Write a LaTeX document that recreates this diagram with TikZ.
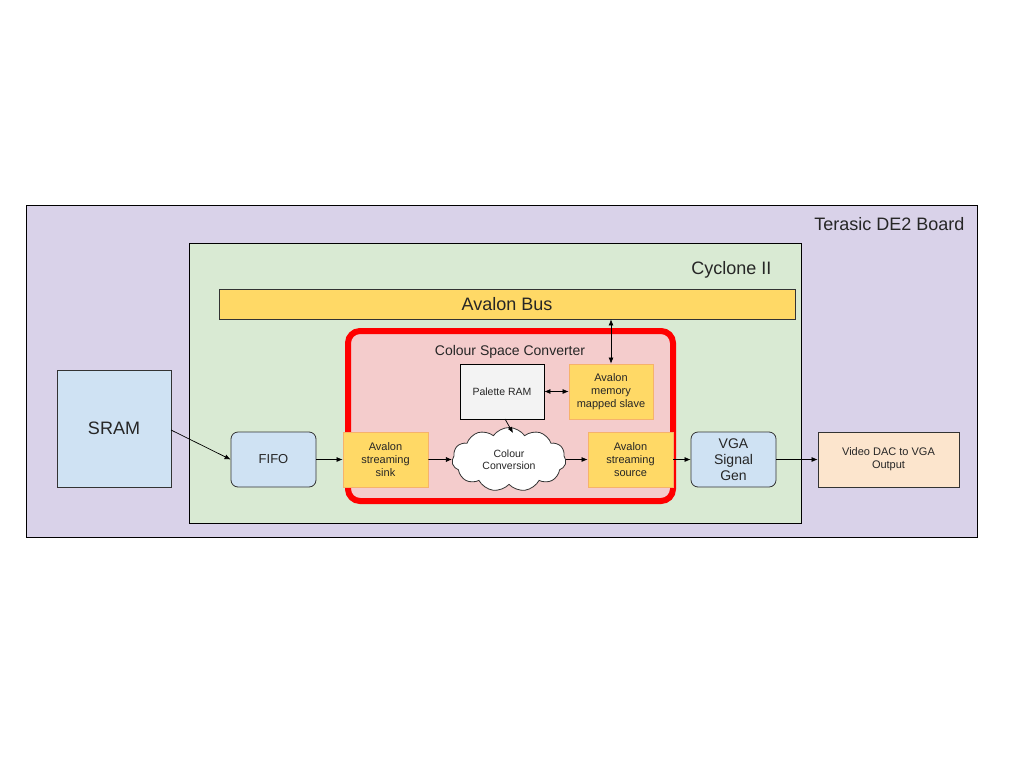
\documentclass[tikz,border=0pt]{standalone}
\usepackage{fontspec}
\setmainfont{Liberation Sans}
\usetikzlibrary{shapes.symbols,arrows.meta}
\definecolor{boardc}{HTML}{D9D2E9}
\definecolor{cyc}{HTML}{D9EAD3}
\definecolor{yel}{HTML}{FFD966}
\definecolor{yelb}{HTML}{F6B26B}
\definecolor{pinkc}{HTML}{F4CCCC}
\definecolor{bluec}{HTML}{CFE2F3}
\definecolor{peach}{HTML}{FCE5CD}
\definecolor{greyc}{HTML}{F3F3F3}
\begin{document}
\begin{tikzpicture}[x=1pt,y=-1pt,
  every node/.style={font=\fontsize{11}{13}\selectfont, align=center, text=black!85},
  box/.style={draw=black, line width=0.8pt, inner sep=0pt},
  ybox/.style={draw=yelb, fill=yel, line width=0.8pt, inner sep=0pt, minimum width=85pt, minimum height=55pt},
  rbox/.style={draw=black!80, fill=bluec, line width=0.8pt, rounded corners=7pt, inner sep=0pt, minimum width=85pt, minimum height=55pt},
  arr/.style={-{Latex[length=6pt,width=5pt]}, line width=0.7pt},
  darr/.style={{Latex[length=6pt,width=5pt]}-{Latex[length=6pt,width=5pt]}, line width=0.7pt}]
\useasboundingbox (0,0) rectangle (1024,768);
\fill[white] (0,0) rectangle (1024,768);
% board
\draw[fill=boardc, line width=0.8pt] (26,205) rectangle (977,537);
\node[anchor=east, font=\fontsize{18}{20}\selectfont] (boardlbl) at (968,224) {Terasic DE2 Board};
% cyclone
\draw[fill=cyc, line width=0.8pt] (189,243) rectangle (801,523);
\node[anchor=east, font=\fontsize{18}{20}\selectfont] (cyclbl) at (775,270) {Cyclone II};
% avalon bus
\node[draw=black!80, fill=yel, line width=0.8pt, minimum width=576pt, minimum height=30pt, inner sep=0pt, font=\fontsize{18}{20}\selectfont] (bus) at (507,304) {Avalon Bus};
% CSC
\draw[draw=red, fill=pinkc, line width=6pt, rounded corners=12pt] (348,331) rectangle (673,501);
\node[font=\fontsize{14}{16}\selectfont] (csclbl) at (510,352) {Colour Space Converter};
% inner boxes
\node[box, fill=greyc, minimum width=84pt, minimum height=55pt, font=\fontsize{10.5}{12}\selectfont] (pram) at (502,391.5) {Palette RAM};
\node[ybox, minimum width=84pt] (slave) at (611,391.5) {Avalon\\memory\\mapped slave};
\node[ybox] (sink) at (385.5,459.5) {Avalon\\streaming\\sink};
\node[ybox] (source) at (630.5,459.5) {Avalon\\streaming\\source};
\node[cloud, cloud puffs=11, cloud puff arc=110, aspect=1.9, draw=black!80, fill=white, line width=0.8pt, minimum width=114pt, minimum height=64pt, inner sep=0pt, font=\fontsize{10.5}{12.5}\selectfont] (cloud) at (509,459.5) {Colour\\Conversion};
% other boxes
\node[draw=black!80, fill=bluec, line width=0.8pt, minimum width=114pt, minimum height=117pt, inner sep=0pt, font=\fontsize{18}{20}\selectfont] (sram) at (114,428.5) {SRAM};
\node[rbox, font=\fontsize{13}{15}\selectfont] (fifo) at (273.5,459.5) {FIFO};
\node[rbox, font=\fontsize{14}{16}\selectfont] (vga) at (733.5,459.5) {VGA\\Signal\\Gen};
\node[draw=black!80, fill=peach, line width=0.8pt, minimum width=141pt, minimum height=55pt, inner sep=0pt] (dac) at (888.5,459.5) {Video DAC to VGA\\Output};
% connectors
\coordinate (sramout) at (171,430);
\draw[arr] (sramout) -- (fifo.west);
\draw[arr] (fifo.east) -- (sink.west);
\draw[arr] (sink.east) -- (cloud.west);
\draw[arr] (cloud.east) -- (source.west);
\draw[arr] (source.east) -- (vga.west);
\draw[arr] (vga.east) -- (dac.west);
\draw[darr] (pram.east) -- (slave.west);
\draw[darr] (slave.north) -- (bus.south -| slave.north);
\coordinate (pramb) at (505,419);
\coordinate (cloudt) at (513,433);
\draw[arr] (pramb) -- (cloudt);
\end{tikzpicture}
\end{document}
